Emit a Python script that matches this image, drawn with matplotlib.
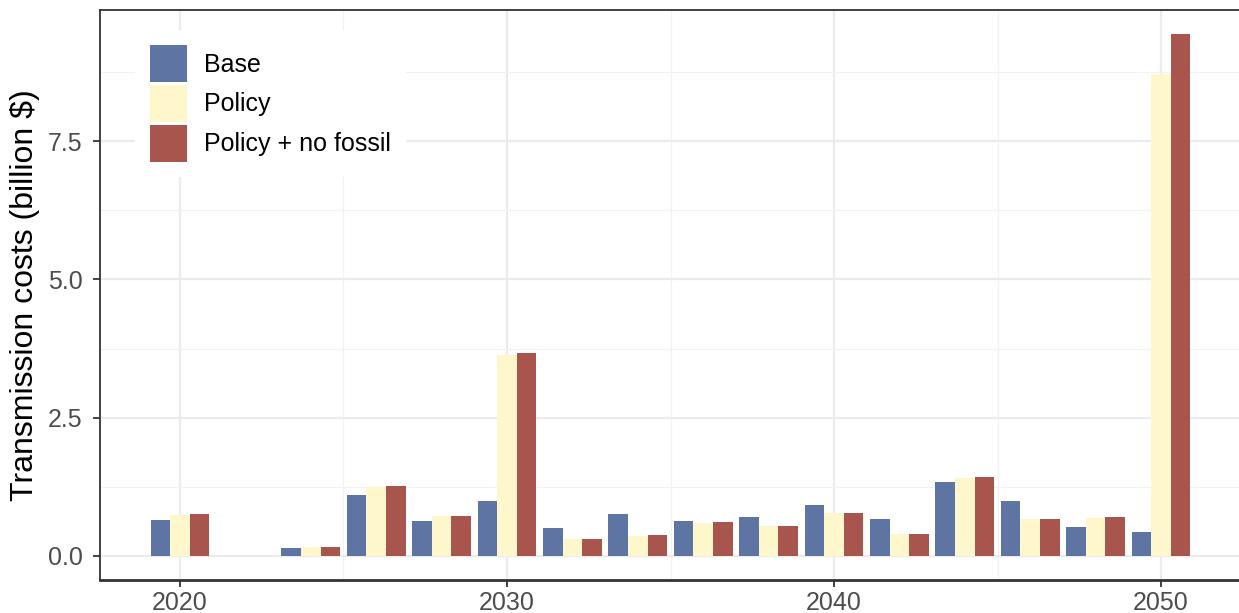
import matplotlib
matplotlib.use("Agg")
import matplotlib.pyplot as plt
from matplotlib.patches import Patch
import numpy as np

years = [2020, 2024, 2026, 2028, 2030, 2032, 2034, 2036, 2038, 2040, 2042, 2044, 2046, 2048, 2050]
base = [0.65, 0.14, 1.11, 0.63, 0.99, 0.51, 0.76, 0.63, 0.70, 0.92, 0.67, 1.34, 0.99, 0.53, 0.43]
policy = [0.74, 0.17, 1.24, 0.72, 3.64, 0.30, 0.37, 0.60, 0.55, 0.78, 0.39, 1.41, 0.67, 0.69, 8.72]
policy_nf = [0.75, 0.17, 1.27, 0.73, 3.67, 0.30, 0.38, 0.62, 0.55, 0.78, 0.39, 1.43, 0.67, 0.70, 9.44]
series_names = ["Base", "Policy", "Policy + no fossil"]
colors = ["#5E74A3", "#FFF7CC", "#A8554D"]

plt.rcParams['font.family'] = ['Liberation Sans', 'DejaVu Sans']

W, H = 1239, 613
fig = plt.figure(figsize=(W / 100, H / 100), dpi=100)
left_px, right_px, top_px, bot_px = 99.5, 1241.5, 10, 580
ax = fig.add_axes([left_px / W, 1 - bot_px / H, (right_px - left_px) / W, (bot_px - top_px) / H])

x = np.array(years, dtype=float)
bw = 0.6
for i, (vals, name, c) in enumerate(zip([base, policy, policy_nf], series_names, colors)):
    ax.bar(x + (i - 1) * bw, vals, width=bw, color=c, edgecolor='none', label=name, zorder=3)

ax.set_xlim(2017.54, 2052.46)
ax.set_ylim(-0.434, 9.868)

ax.set_xticks([2020, 2030, 2040, 2050])
ax.set_xticks([2025, 2035, 2045], minor=True)
ax.set_yticks([0, 2.5, 5, 7.5])
ax.set_yticklabels(["0.0", "2.5", "5.0", "7.5"])
ax.set_yticks([1.25, 3.75, 6.25, 8.75], minor=True)

ax.grid(which='major', color='#EBEBEB', linewidth=1.6, zorder=0)
ax.grid(which='minor', color='#F2F2F2', linewidth=0.9, zorder=0)
ax.set_axisbelow(True)

ax.tick_params(axis='both', which='major', length=5, width=1.3, color='#333333',
               labelsize=18, labelcolor='#4D4D4D')
ax.tick_params(axis='y', which='major', pad=7)
ax.tick_params(axis='x', which='major', pad=3)
ax.tick_params(axis='both', which='minor', length=0)

for s in ['left', 'top', 'right']:
    ax.spines[s].set_color('#333333')
    ax.spines[s].set_linewidth(1.3)
ax.spines['bottom'].set_color('#333333')
ax.spines['bottom'].set_linewidth(2.0)

ax.set_ylabel("Transmission costs (billion $)", fontsize=23, color='black', labelpad=6)

handles = [Patch(facecolor=c, edgecolor='none') for c in colors]
leg = ax.legend(handles, series_names, loc='upper left',
                bbox_to_anchor=(135 / W, 1 - 30 / H), bbox_transform=fig.transFigure,
                borderaxespad=0, fontsize=18, frameon=True, fancybox=False,
                handlelength=1.48, handleheight=1.9, labelspacing=0.12,
                handletextpad=0.7, borderpad=0.6)
leg.get_frame().set_facecolor('white')
leg.get_frame().set_edgecolor('none')
leg.get_frame().set_alpha(1)
leg.set_zorder(5)

fig.savefig("out.png", dpi=100)
